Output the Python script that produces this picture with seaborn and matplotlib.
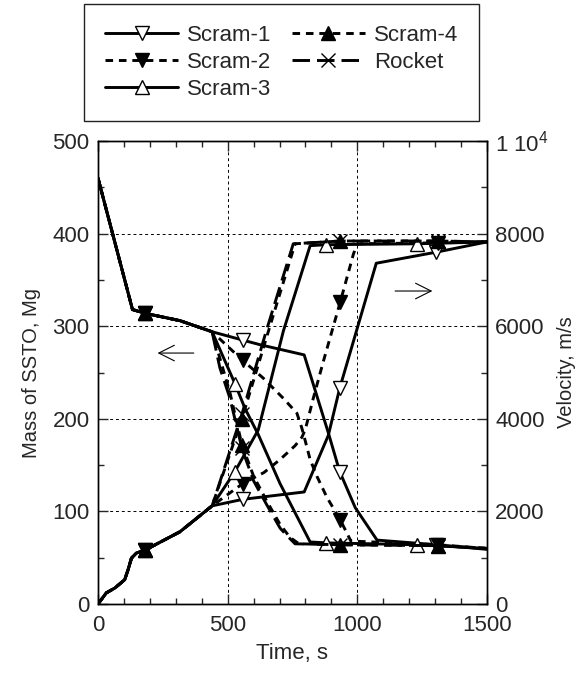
import matplotlib
matplotlib.use("Agg")
import matplotlib.pyplot as plt
from matplotlib.lines import Line2D
from matplotlib.ticker import MultipleLocator
import seaborn as sns

# ---- shared ascent (before the propulsion modes split) ----
t_mass_common = [0, 133, 180, 316, 440]
mass_common = [460, 318, 314, 306, 294]
t_vel_common = [0, 32, 65, 103, 116, 129, 148, 180, 316, 440]
vel_common = [0, 240, 345, 525, 740, 990, 1100, 1160, 1560, 2120]

# ---- Scram-1 ----
t_mass_s1 = [558, 625, 795, 888, 932, 992, 1076, 1305, 1500]
mass_s1 = [285, 280, 269, 185, 143, 104, 69, 64, 59]
t_vel_s1 = [558, 795, 888, 932, 1073, 1305, 1500]
vel_s1 = [2260, 2420, 3640, 4660, 7360, 7600, 7820]
marks_s1 = [180, 558, 932, 1305]

# ---- Scram-2 ----
t_mass_s2 = [558, 637, 715, 767, 786, 805, 818, 844, 883, 934, 975, 1310, 1500]
mass_s2 = [263, 244, 222, 206, 190, 170, 156, 138, 115, 91, 68, 64, 60]
t_vel_s2 = [558, 640, 702, 760, 786, 799, 830, 869, 934, 985, 1000, 1310, 1500]
vel_s2 = [2600, 2840, 3120, 3420, 3600, 3760, 4440, 5240, 6520, 7560, 7780, 7800, 7820]
marks_s2 = [180, 558, 934, 1310]

# ---- Scram-3 ----
t_mass_s3 = [528, 567, 618, 702, 818, 880, 1230, 1500]
mass_s3 = [238, 211, 183, 130, 67, 66, 64, 60]
t_vel_s3 = [528, 618, 715, 818, 880, 1230, 1500]
vel_s3 = [2860, 3760, 5900, 7740, 7760, 7780, 7820]
marks_s3 = [180, 528, 880, 1230]

# ---- Scram-4 ----
t_mass_s4 = [509, 555, 600, 651, 702, 740, 775, 935, 1310, 1500]
mass_s4 = [228, 172, 138, 111, 86, 72, 65, 64, 63, 60]
t_vel_s4 = [555, 650, 760, 935, 1310, 1500]
vel_s4 = [4000, 5760, 7780, 7840, 7840, 7820]
marks_s4 = [180, 555, 935, 1310]

# ---- Rocket ----
t_mass_rk = [470, 509, 555, 600, 651, 702, 728, 760, 935, 1310, 1500]
mass_rk = [255, 222, 168, 133, 107, 82, 74, 65, 64, 63, 60]
t_vel_rk = [555, 650, 753, 935, 1310, 1500]
vel_rk = [4100, 5920, 7780, 7840, 7840, 7820]
marks_rk = [180, 555, 935, 1310]

series_names = ["Scram-1", "Scram-2", "Scram-3", "Scram-4", "Rocket"]

x_ticks = [0, 500, 1000, 1500]
mass_ticks = [0, 100, 200, 300, 400, 500]
vel_ticks = [0, 2000, 4000, 6000, 8000, 10000]
vel_tick_labels = ["0", "2000", "4000", "6000", "8000", r"1 10$^{4}$"]

sns.set_style("ticks")
plt.rcParams["font.family"] = ["Liberation Sans", "DejaVu Sans"]
plt.rcParams["mathtext.fontset"] = "custom"
plt.rcParams["mathtext.rm"] = "Liberation Sans"
plt.rcParams["mathtext.it"] = "Liberation Sans"
FS = 16        # horizontal text
FS_ROT = 14.5  # rotated axis titles

short_dash = (0, (2.6, 2.0))
long_dash = (0, (6.0, 2.4))
styles = {
    "Scram-1": dict(linestyle="-", marker="v", markerfacecolor="white"),
    "Scram-2": dict(linestyle=short_dash, marker="v", markerfacecolor="black"),
    "Scram-3": dict(linestyle="-", marker="^", markerfacecolor="white"),
    "Scram-4": dict(linestyle=short_dash, marker="^", markerfacecolor="black"),
    "Rocket": dict(linestyle=long_dash, marker="x", markerfacecolor="black"),
}
LW = 2.1
MS = 9.5

fig = plt.figure(figsize=(5.88, 6.79), dpi=100)
ax = fig.add_axes([98 / 588, 1 - 604 / 679, 389 / 588, 463 / 679])
ax2 = ax.twinx()


def draw(axis, t, y, marks, name):
    st = styles[name]
    idx = [t.index(m) for m in marks]
    ms = MS + 1 if st["marker"] == "x" else MS
    sns.lineplot(
        x=t, y=y, ax=axis, color="black", lw=LW, sort=False, estimator=None,
        linestyle=st["linestyle"], marker=st["marker"], markersize=ms,
        markerfacecolor=st["markerfacecolor"], markeredgecolor="black",
        markeredgewidth=1.0, markevery=idx, legend=False,
    )


mass_sets = [
    ("Scram-1", t_mass_s1, mass_s1, t_vel_s1, vel_s1, marks_s1),
    ("Scram-2", t_mass_s2, mass_s2, t_vel_s2, vel_s2, marks_s2),
    ("Scram-3", t_mass_s3, mass_s3, t_vel_s3, vel_s3, marks_s3),
    ("Scram-4", t_mass_s4, mass_s4, t_vel_s4, vel_s4, marks_s4),
    ("Rocket", t_mass_rk, mass_rk, t_vel_rk, vel_rk, marks_rk),
]
for name, tm, m, tv, v, marks in mass_sets:
    draw(ax, t_mass_common + tm, mass_common + m, marks, name)
    draw(ax2, t_vel_common + tv, vel_common + v, marks, name)

# axes, ticks and grid
ax.set_xlim(0, 1500)
ax.set_ylim(0, 500)
ax2.set_ylim(0, 10000)
ax.set_xticks(x_ticks)
ax.set_yticks(mass_ticks)
ax2.set_yticks(vel_ticks)
ax2.set_yticklabels(vel_tick_labels)
ax.xaxis.set_minor_locator(MultipleLocator(100))
ax.yaxis.set_minor_locator(MultipleLocator(50))
ax2.yaxis.set_minor_locator(MultipleLocator(1000))

ax.grid(True, which="major", color="black", linestyle=(0, (3, 3)), linewidth=0.7)
ax.set_axisbelow(True)

ax.tick_params(axis="x", which="both", direction="in", top=True, bottom=True,
               labelsize=FS, pad=8)
ax.tick_params(axis="y", which="both", direction="in", left=True, right=False,
               labelsize=FS, pad=6)
ax2.tick_params(axis="y", which="both", direction="in", right=True, left=False,
                labelsize=FS, pad=6)
for a in (ax, ax2):
    a.tick_params(which="major", length=7, width=1)
    a.tick_params(which="minor", length=4, width=1)
    for sp in a.spines.values():
        sp.set_visible(True)
        sp.set_linewidth(1.0)
        sp.set_color("black")

ax.set_xlabel("Time, s", fontsize=FS, labelpad=5)
ax.set_ylabel("Mass of SSTO, Mg", fontsize=FS_ROT, labelpad=8)
ax2.set_ylabel("Velocity, m/s", fontsize=FS_ROT, labelpad=6)

# arrows pointing to the axis each family of curves belongs to
ax.annotate("", xy=(219, 271), xytext=(380, 271),
            arrowprops=dict(arrowstyle="->", lw=0.8, color="black", mutation_scale=28))
ax.annotate("", xy=(1300, 338), xytext=(1135, 338),
            arrowprops=dict(arrowstyle="->", lw=0.8, color="black", mutation_scale=28))

# legend above the plot
handles = []
for name in series_names:
    st = styles[name]
    ms = MS + 1 if st["marker"] == "x" else MS
    handles.append(Line2D([], [], color="black", lw=LW, linestyle=st["linestyle"],
                          marker=st["marker"], markersize=ms,
                          markerfacecolor=st["markerfacecolor"],
                          markeredgecolor="black", markeredgewidth=1.0))
leg = fig.legend(handles, series_names, ncol=2, loc="upper left",
                 bbox_to_anchor=(84 / 588, 1 - 4 / 679), fontsize=FS,
                 frameon=True, fancybox=False, edgecolor="#222222", framealpha=1,
                 handlelength=3.3, handletextpad=0.4, columnspacing=0.9,
                 labelspacing=0.26, borderpad=0.95, numpoints=1, borderaxespad=0)
leg.get_frame().set_linewidth(1.0)

fig.savefig("out.png", dpi=100)
